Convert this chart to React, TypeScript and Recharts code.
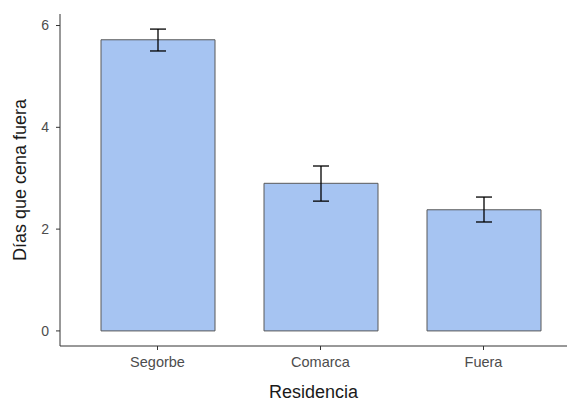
import React from "react";
import { BarChart, Bar, XAxis, YAxis, ErrorBar } from "recharts";

const categories = ["Segorbe", "Comarca", "Fuera"];
const means = [5.72, 2.9, 2.38];
const lower = [5.5, 2.55, 2.14];
const upper = [5.93, 3.24, 2.63];
const yTicks = [0, 2, 4, 6];

const data = categories.map((name, i) => ({
    name,
    value: means[i],
    err: [means[i] - lower[i], upper[i] - means[i]],
}));

const font = "'Liberation Sans', Arial, sans-serif";

export default function App() {
    return (
        <div style={{ position: "absolute", left: 0, top: 0, background: "#fff" }}>
            <BarChart
                width={567}
                height={401}
                data={data}
                margin={{ top: 14, right: 0, bottom: 0, left: 0 }}
                style={{ fontFamily: font }}
            >
                <XAxis
                    dataKey="name"
                    height={55}
                    padding={{ left: 16, right: 2 }}
                    stroke="#333"
                    tickSize={4}
                    tickMargin={7}
                    tick={{ fill: "#4d4d4d", fontSize: 14.5 }}
                    label={{
                        value: "Residencia",
                        position: "insideBottom",
                        offset: 3,
                        fontSize: 18,
                        fill: "#1a1a1a",
                    }}
                />
                <YAxis
                    width={60}
                    type="number"
                    domain={[-0.2965, 6.2265]}
                    allowDataOverflow
                    ticks={yTicks}
                    stroke="#333"
                    tickSize={4}
                    tickMargin={7}
                    tick={{ fill: "#4d4d4d", fontSize: 14 }}
                    label={{
                        value: "Días que cena fuera",
                        angle: -90,
                        position: "insideLeft",
                        offset: 20,
                        fontSize: 18,
                        fill: "#1a1a1a",
                        style: { textAnchor: "middle" },
                    }}
                />
                <Bar
                    dataKey="value"
                    fill="#a6c4f2"
                    stroke="#595959"
                    strokeWidth={1}
                    barSize={114}
                    isAnimationActive={false}
                >
                    <ErrorBar
                        dataKey="err"
                        width={8}
                        stroke="#000"
                        strokeWidth={1.3}
                        direction="y"
                    />
                </Bar>
            </BarChart>
        </div>
    );
}
